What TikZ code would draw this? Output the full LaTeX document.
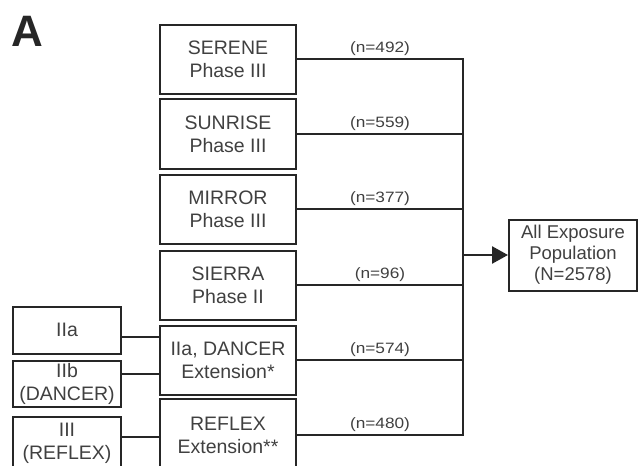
\documentclass[tikz,border=0pt]{standalone}
\usepackage{fontspec}
\setmainfont{Liberation Sans}
\newfontfamily\labfont[FakeStretch=1.15]{Liberation Sans}
\usetikzlibrary{arrows.meta}
\begin{document}
\begin{tikzpicture}[x=1pt,y=-1pt,
  box/.style={draw=black!85, line width=2pt, align=center, inner sep=0pt,
    font=\fontsize{19.5}{23}\selectfont, text=black!75},
  midbox/.style={box, minimum width=136pt},
  leftbox/.style={box, minimum width=108pt},
  nlabel/.style={font=\labfont\fontsize{15}{17}\selectfont, text=black!75, inner sep=2pt},
  conn/.style={draw=black!85, line width=2pt}]
\useasboundingbox (0,0) rectangle (641,466);
\node[font=\bfseries\fontsize{44}{44}\selectfont, text=black!85] (lab) at (27,31) {A};
% middle column
\node[midbox, minimum height=69pt] (serene) at (228,59) {SERENE\\Phase III};
\node[midbox, minimum height=70pt] (sunrise) at (228,134) {SUNRISE\\Phase III};
\node[midbox, minimum height=69pt] (mirror) at (228,209) {MIRROR\\Phase III};
\node[midbox, minimum height=69pt] (sierra) at (228,285) {SIERRA\\Phase II};
\node[midbox, minimum height=69pt] (dancer) at (228,360) {IIa, DANCER\\Extension*};
\node[midbox, minimum height=72pt] (reflex) at (228,435) {REFLEX\\Extension**};
% left column
\node[leftbox, minimum height=47pt] (iia) at (67,330) {IIa};
\node[leftbox, minimum height=46pt] (iib) at (67,384) {IIb\\(DANCER)};
\node[leftbox, minimum height=52pt] (iii) at (67,443) {III\\(REFLEX)};
% output
\node[box, minimum width=128pt, minimum height=71pt, font=\fontsize{18.5}{21}\selectfont] (out) at (573,255) {All Exposure\\Population\\(N=2578)};
% bus
\coordinate (bus) at (463,0);
\draw[conn] (serene.east) -- node[nlabel, above] {(n=492)} (serene.east -| bus);
\draw[conn] (sunrise.east) -- node[nlabel, above] {(n=559)} (sunrise.east -| bus);
\draw[conn] (mirror.east) -- node[nlabel, above] {(n=377)} (mirror.east -| bus);
\draw[conn] (sierra.east) -- node[nlabel, above] {(n=96)} (sierra.east -| bus);
\draw[conn] (dancer.east) -- node[nlabel, above] {(n=574)} (dancer.east -| bus);
\draw[conn] (reflex.east) -- node[nlabel, above] {(n=480)} (reflex.east -| bus);
\draw[conn, line cap=rect] (serene.east -| bus) -- (reflex.east -| bus);
\draw[conn, line width=2.6pt, -{Triangle[length=16pt,width=17pt]}] (out.west -| bus) -- (out.west);
% left connectors
\coordinate (a1) at ([yshift=-7pt]iia.east);
\coordinate (b1) at ([yshift=10pt]iib.east);
\coordinate (c1) at ([yshift=6pt]iii.east);
\draw[conn] (a1) -- (dancer.west |- a1);
\draw[conn] (b1) -- (dancer.west |- b1);
\draw[conn] (c1) -- (reflex.west |- c1);
\end{tikzpicture}
\end{document}
